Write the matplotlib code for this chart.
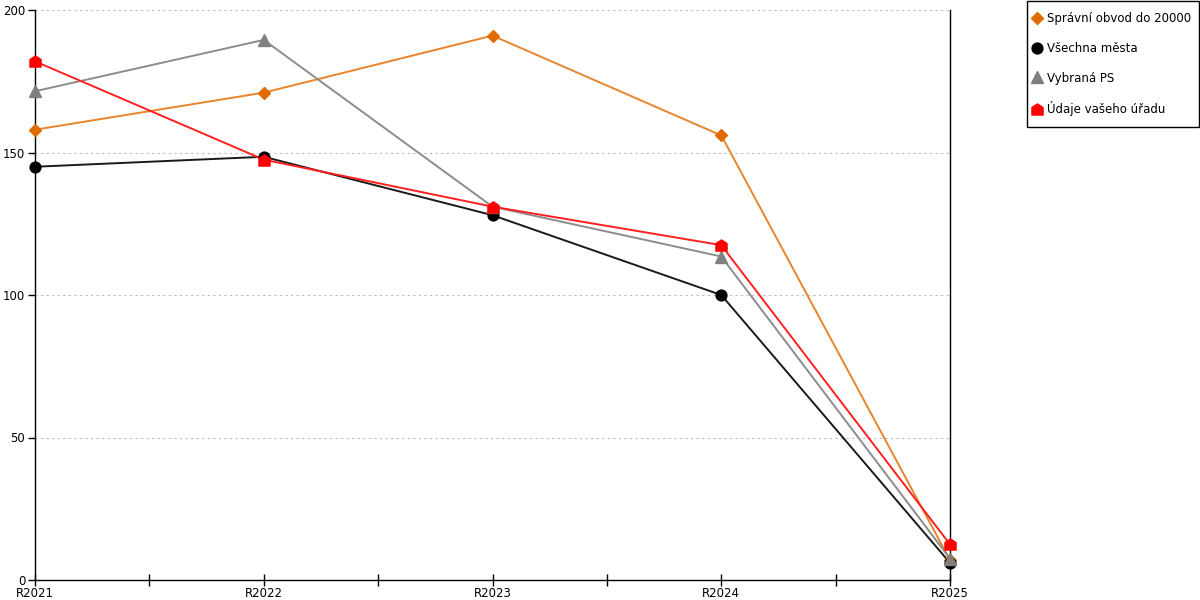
import numpy as np
import matplotlib.pyplot as plt
from matplotlib.path import Path
from matplotlib.lines import Line2D
from matplotlib.patches import Rectangle

years = ["R2021", "R2022", "R2023", "R2024", "R2025"]
spravni_obvod = [158, 171, 191, 156, 7]
vsechna_mesta = [145, 148.5, 128, 100, 6]
vybrana_ps = [171.5, 189.5, 131, 113.5, 7.5]
vas_urad = [182, 147.5, 131, 117.5, 12.5]

labels = ["Správní obvod do 20000", "Všechna města", "Vybraná PS", "Údaje vašeho úřadu"]

# house shaped marker for the office series
house = Path([(-1, -1), (1, -1), (1, 0.35), (0, 1), (-1, 0.35), (-1, -1)],
             [Path.MOVETO, Path.LINETO, Path.LINETO, Path.LINETO, Path.LINETO, Path.CLOSEPOLY])

plt.rcParams['font.family'] = ['DejaVu Sans']
fig = plt.figure(figsize=(12, 6), dpi=100)
ax = fig.add_axes([35/1200, 20/600, 915/1200, 570/600])

x = np.arange(len(years))
series = [
    (spravni_obvod, '#E8842A', '#E06C00', 'D', 6.5),
    (vsechna_mesta, '#1a1a1a', '#000000', 'o', 7.8),
    (vybrana_ps, '#8c8c8c', '#808080', '^', 8.5),
    (vas_urad, '#FF2020', '#FF0000', house, 8),
]
handles = []
for (vals, lc, mc, mk, ms), lab in zip(series, labels):
    ax.plot(x, vals, color=lc, lw=1.4, zorder=2)
    ax.plot(x, vals, ls='none', marker=mk, ms=ms, color=mc, mec=mc, zorder=3, clip_on=False)
    handles.append(Line2D([], [], ls='none', marker=mk, ms=ms, color=mc, mec=mc))

ax.set_xlim(0, 4)
ax.set_ylim(0, 200)
ax.set_yticks([0, 50, 100, 150, 200])
ax.set_xticks(x)
ax.set_xticklabels(years)
ax.set_xticks(np.arange(0.5, 4, 1), minor=True)
ax.tick_params(axis='x', which='both', direction='inout', length=8, width=1, labelsize=8.5, pad=1)
ax.tick_params(axis='y', direction='out', length=5, width=1, labelsize=8.5, pad=2)
ax.yaxis.grid(True, ls=(0, (2, 3)), color='#bbbbbb', lw=0.8)
ax.set_axisbelow(True)
ax.spines['top'].set_visible(False)
for s in ['left', 'right', 'bottom']:
    ax.spines[s].set_color('black')
    ax.spines[s].set_linewidth(1)

# legend box drawn by hand, entries placed inside it
fig.patches.append(Rectangle((1027/1200, 1 - 127/600), 172/1200, 126/600, transform=fig.transFigure,
                             fill=False, edgecolor='black', lw=1))
leg = fig.legend(handles, labels, loc='upper left', bbox_to_anchor=(1032/1200, 1 - 12/600),
                 frameon=False, fontsize=8.5, labelspacing=1.42,
                 handlelength=0.8, handletextpad=0.45, borderpad=0, borderaxespad=0)

fig.savefig("out.png", dpi=100)
